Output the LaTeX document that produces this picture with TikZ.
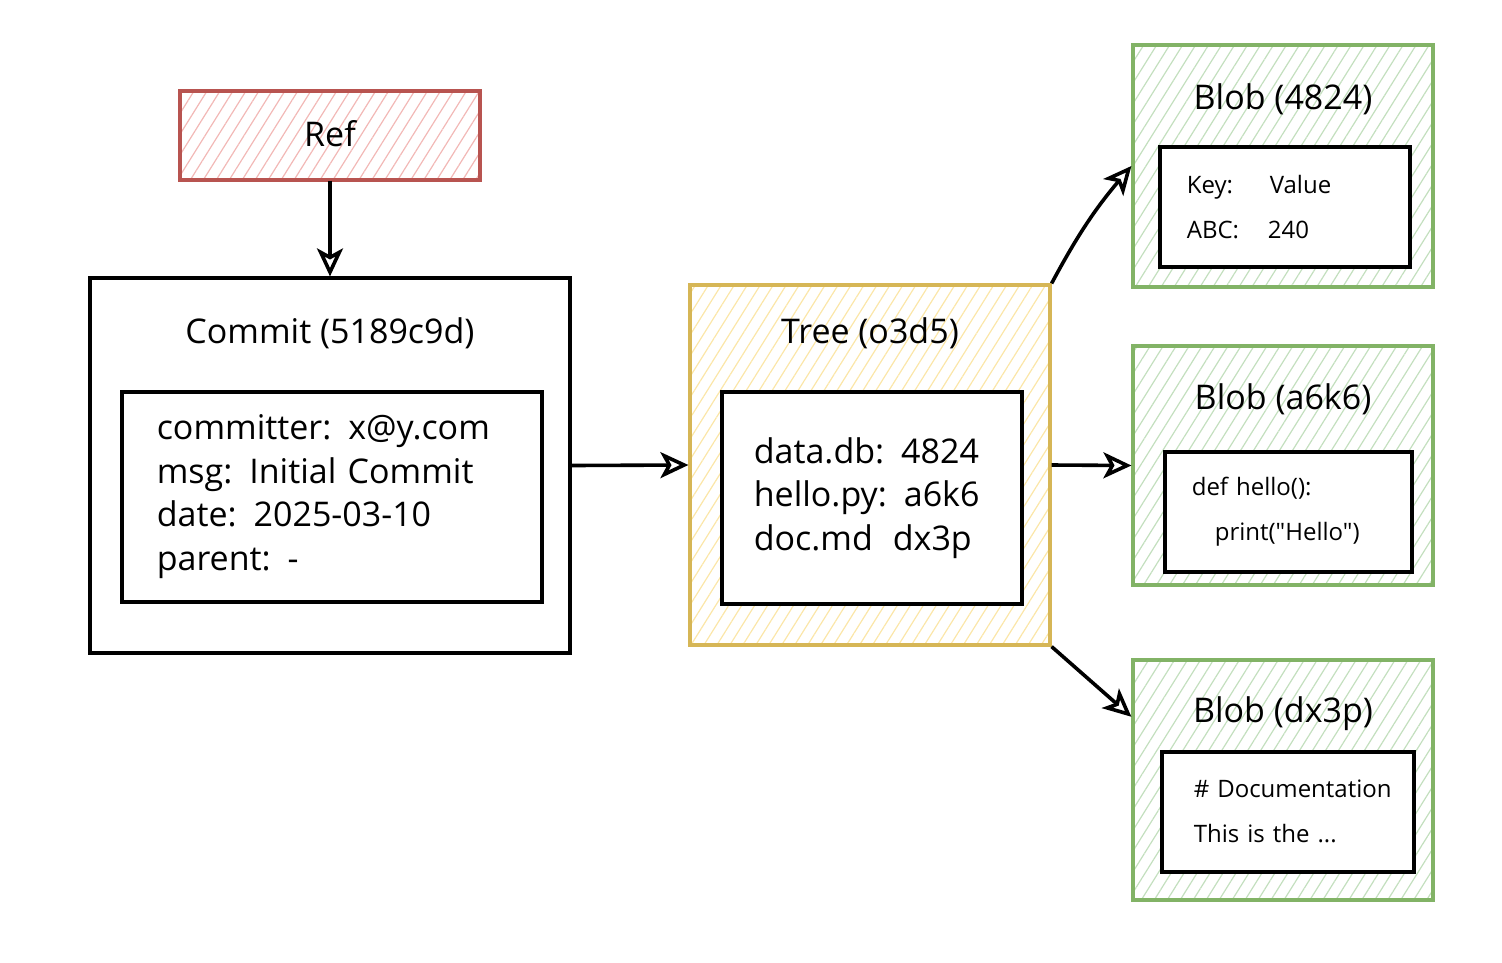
\documentclass[tikz,border=0pt]{standalone}
\usepackage{fontspec}
\setmainfont{Open Sans}[Ligatures=TeXOff]
\usetikzlibrary{arrows.meta,patterns.meta,calc}
\definecolor{redS}{HTML}{B85450}
\definecolor{redH}{HTML}{F2B8B6}
\definecolor{yelS}{HTML}{D6B656}
\definecolor{yelH}{HTML}{FBE6A8}
\definecolor{grnS}{HTML}{82B366}
\definecolor{grnH}{HTML}{C3DFBE}
\tikzset{
  outerbox/.style={draw, line width=3.2pt, minimum width=#1, inner sep=0pt},
  hatch/.style={pattern={Lines[angle=58,distance=11pt,line width=1.2pt]}, pattern color=#1},
  innerbox/.style={draw=black, line width=3.6pt, fill=white, align=left, anchor=north west},
  titletext/.style={font=\fontsize{34}{40}\selectfont, inner sep=0pt},
  bigtext/.style={font=\fontsize{34}{43.5}\selectfont},
  smalltext/.style={font=\fontsize{24}{45}\selectfont},
  arr/.style={draw=black, line width=3.6pt, -{Stealth[open,length=28pt,width=26pt,inset=7pt]}},
}
\begin{document}
\begin{tikzpicture}[x=1pt,y=-1pt]
\useasboundingbox (0,0) rectangle (1502,962);
% Ref
\node[outerbox=300pt, minimum height=89pt, draw=redS, hatch=redH, titletext, text depth=5pt] (ref) at (330,135.5) {Ref};
% Commit
\node[outerbox=480pt, minimum height=375pt, draw=black] (commit) at (330,465.5) {};
\node[titletext] (committitle) at (330,333) {Commit (5189c9d)};
\node[innerbox, bigtext, text width=350pt, inner xsep=35pt, minimum height=210pt] (commitbody) at (120,390)
  {committer: x@y.com\\msg: Initial Commit\\date: 2025-03-10\\parent: -};
% Tree
\node[outerbox=360pt, minimum height=360pt, draw=yelS, hatch=yelH] (tree) at (870,465) {};
\node[titletext] (treetitle) at (870,333) {Tree (o3d5)};
\node[innerbox, bigtext, text width=236pt, inner xsep=32pt, minimum height=212pt] (treebody) at (720,390)
  {data.db: 4824\\hello.py: a6k6\\doc.md\hspace{20pt}dx3p};
% Blob 4824
\node[outerbox=300pt, minimum height=242pt, draw=grnS, hatch=grnH] (b1) at (1283,166) {};
\node[titletext] (b1title) at (1283,99) {Blob (4824)};
\node[innerbox, smalltext, text width=196pt, inner xsep=27pt, minimum height=120pt] (b1body) at (1158,145)
  {\makebox[83pt][l]{Key:}Value\\\makebox[81pt][l]{ABC:}240};
% Blob a6k6
\node[outerbox=300pt, minimum height=239pt, draw=grnS, hatch=grnH] (b2) at (1283,465.5) {};
\node[titletext] (b2title) at (1283,399) {Blob (a6k6)};
\node[innerbox, smalltext, text width=193pt, inner xsep=27pt, minimum height=120pt] (b2body) at (1163,450)
  {def hello():\\\hspace*{23pt}print("Hello")};
% Blob dx3p
\node[outerbox=300pt, minimum height=240pt, draw=grnS, hatch=grnH] (b3) at (1283,780) {};
\node[titletext] (b3title) at (1283,714) {Blob (dx3p)};
\node[innerbox, smalltext, text width=216pt, inner xsep=18pt, minimum height=120pt] (b3body) at (1160,750)
  {\hspace*{14pt}\# Documentation\\\hspace*{14pt}This is the ...};
% connectors
\coordinate (b3in) at ($(b3.north west)!0.24!(b3.south west)$);
\draw[arr] (ref.south) -- (commit.north);
\draw[arr] (commit.east) -- (tree.west);
\draw[arr] (tree.east) -- (b2.west);
\draw[arr] (tree.north east) to[bend left=6] (b1.west);
\draw[arr] (tree.south east) -- (b3in);
\end{tikzpicture}
\end{document}
